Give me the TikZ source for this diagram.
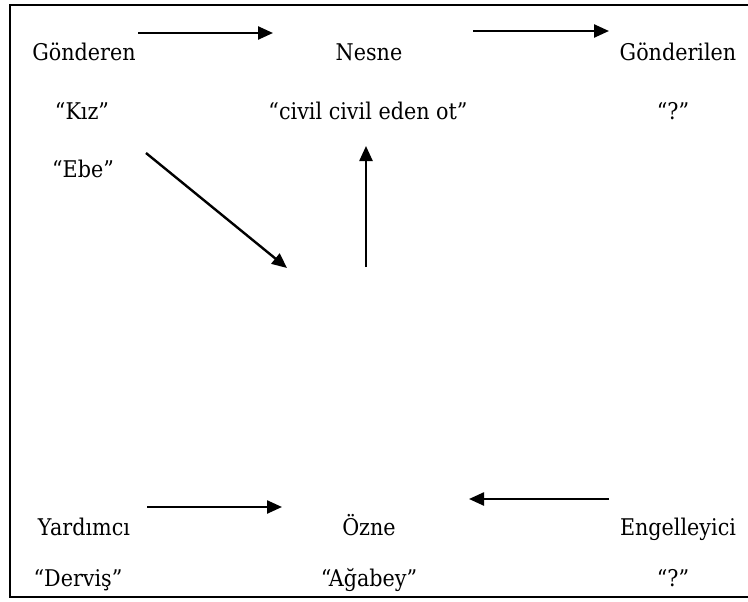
\documentclass[tikz,border=0pt]{standalone}
\usepackage{fontspec}
\setmainfont{DejaVu Serif}[FakeStretch=0.9]
\usetikzlibrary{arrows.meta}
\begin{document}
\begin{tikzpicture}[x=1pt,y=-1pt,
  lbl/.style={anchor=base,inner sep=0pt,font=\fontsize{23}{27}\selectfont},
  arr/.style={line width=2.4pt,-{Triangle[length=15pt,width=13pt]}},
  frame/.style={line width=2pt}]
\useasboundingbox (0,0) rectangle (748,602);
\draw[frame] (748,5) -- (10,5) -- (10,597) -- (748,597);
% top row
\node[lbl] (gon) at (84,61) {Gönderen};
\node[lbl] (nes) at (369,61) {Nesne};
\node[lbl] (gonl) at (678,61) {Gönderilen};
\node[lbl] (kiz) at (82,120) {“Kız”};
\node[lbl] (civ) at (368,120) {“civil civil eden ot”};
\node[lbl] (q1) at (673,120) {“?”};
\node[lbl] (ebe) at (83,178) {“Ebe”};
% bottom row
\node[lbl] (yar) at (84,535) {Yardımcı};
\node[lbl] (ozn) at (369,535) {Özne};
\node[lbl] (eng) at (678,535) {Engelleyici};
\node[lbl] (der) at (78,586) {“Derviş”};
\node[lbl] (aga) at (369,586) {“Ağabey”};
\node[lbl] (q2) at (673,586) {“?”};
% arrow end points
\coordinate (a1s) at (138,33); \coordinate (a1e) at (273,33);
\coordinate (a2s) at (473,31); \coordinate (a2e) at (609,31);
\coordinate (a3s) at (146,153); \coordinate (a3e) at (287,268);
\coordinate (a4s) at (366,267); \coordinate (a4e) at (366,146);
\coordinate (a5s) at (147,507); \coordinate (a5e) at (282,507);
\coordinate (a6s) at (609,499); \coordinate (a6e) at (469,499);
\draw[arr] (a1s) -- (a1e);
\draw[arr] (a2s) -- (a2e);
\draw[arr] (a3s) -- (a3e);
\draw[arr] (a4s) -- (a4e);
\draw[arr] (a5s) -- (a5e);
\draw[arr] (a6s) -- (a6e);
\end{tikzpicture}
\end{document}
